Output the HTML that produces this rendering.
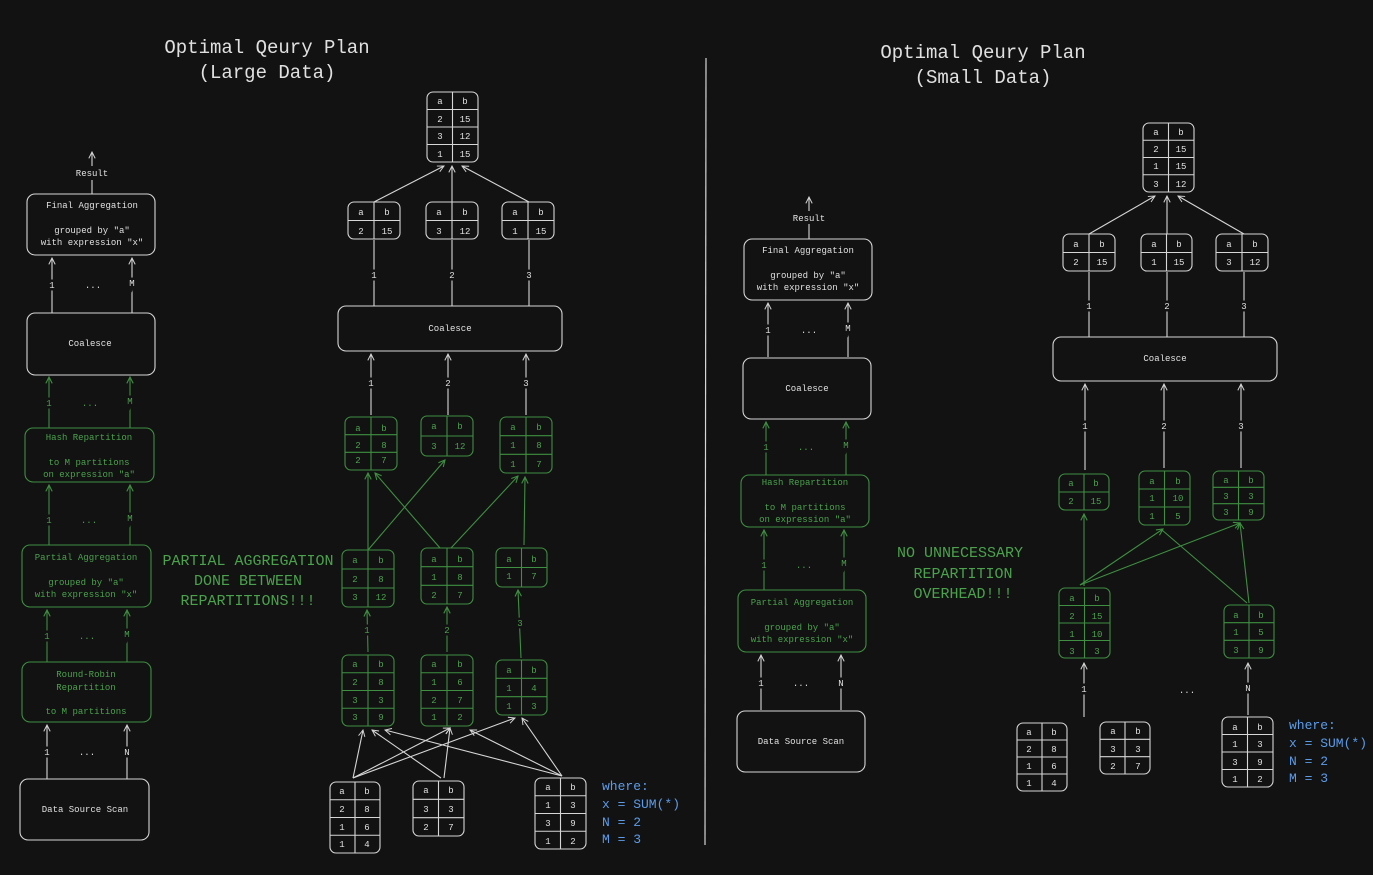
<!DOCTYPE html>
<html><head><meta charset="utf-8"><style>
html,body{margin:0;padding:0;background:#121212;}
svg{display:block}
text{font-family:"Liberation Mono","DejaVu Sans Mono",monospace;text-anchor:middle}
.w{stroke:#d6d6d6;fill:none;stroke-width:1.1}
.g{stroke:#3e8f41;fill:none;stroke-width:1.1}
.tw{fill:#e0e0e0;font-size:9px}
.tg{fill:#4aa24d;font-size:9px}
.lbl{paint-order:stroke;stroke:#121212;stroke-width:5px}
.tt{fill:#e0e0e0;font-size:19px}
.big{fill:#4aa24d;font-size:15px;font-family:"Liberation Mono",monospace}
.blue{fill:#5b9cea;font-size:13px;text-anchor:start}
</style></head><body>
<svg width="1373" height="875" viewBox="0 0 1373 875" xmlns="http://www.w3.org/2000/svg">
<defs>
<marker id="aw" viewBox="0 0 10 10" refX="9" refY="5" markerWidth="8" markerHeight="8" orient="auto-start-reverse" markerUnits="userSpaceOnUse"><path d="M1 1 L9 5 L1 9" fill="none" stroke="#d6d6d6" stroke-width="1.2"/></marker>
<marker id="ag" viewBox="0 0 10 10" refX="9" refY="5" markerWidth="8" markerHeight="8" orient="auto-start-reverse" markerUnits="userSpaceOnUse"><path d="M1 1 L9 5 L1 9" fill="none" stroke="#3e8f41" stroke-width="1.4"/></marker>
</defs>
<rect width="1373" height="875" fill="#121212"/>

<!-- titles -->
<text class="tt" x="267" y="53">Optimal Qeury Plan</text>
<text class="tt" x="267" y="78">(Large Data)</text>
<text class="tt" x="983" y="58">Optimal Qeury Plan</text>
<text class="tt" x="983" y="83">(Small Data)</text>
<line x1="706" y1="58" x2="705" y2="845" stroke="#d6d6d6" stroke-width="1.2"/>

<!-- LEFT PIPELINE -->
<line class="w" x1="92" y1="194" x2="92" y2="180"/>
<text class="tw" x="92" y="176">Result</text>
<line class="w" x1="92" y1="166" x2="92" y2="152" marker-end="url(#aw)"/>
<rect class="w" x="27" y="194" width="128" height="61" rx="8"/>
<text class="tw" x="92" y="208">Final Aggregation</text>
<text class="tw" x="92" y="233">grouped by "a"</text>
<text class="tw" x="92" y="245">with expression "x"</text>
<line class="w" x1="52" y1="313" x2="52" y2="258" marker-end="url(#aw)"/>
<line class="w" x1="132" y1="313" x2="132" y2="258" marker-end="url(#aw)"/>
<text class="tw lbl" x="52" y="288">1</text><text class="tw" x="93" y="288">...</text><text class="tw lbl" x="132" y="286">M</text>
<rect class="w" x="27" y="313" width="128" height="62" rx="8"/>
<text class="tw" x="90" y="346">Coalesce</text>
<line class="g" x1="49" y1="428" x2="49" y2="377" marker-end="url(#ag)"/>
<line class="g" x1="130" y1="428" x2="130" y2="377" marker-end="url(#ag)"/>
<text class="tg lbl" x="49" y="406">1</text><text class="tg" x="90" y="406">...</text><text class="tg lbl" x="130" y="404">M</text>
<rect class="g" x="25" y="428" width="129" height="54" rx="8"/>
<text class="tg" x="89" y="440">Hash Repartition</text>
<text class="tg" x="89" y="465">to M partitions</text>
<text class="tg" x="89" y="477">on expression "a"</text>
<line class="g" x1="49" y1="545" x2="49" y2="485" marker-end="url(#ag)"/>
<line class="g" x1="130" y1="545" x2="130" y2="485" marker-end="url(#ag)"/>
<text class="tg lbl" x="49" y="523">1</text><text class="tg" x="89" y="523">...</text><text class="tg lbl" x="130" y="521">M</text>
<rect class="g" x="22" y="545" width="129" height="62" rx="8"/>
<text class="tg" x="86" y="560">Partial Aggregation</text>
<text class="tg" x="86" y="585">grouped by "a"</text>
<text class="tg" x="86" y="597">with expression "x"</text>
<line class="g" x1="47" y1="662" x2="47" y2="610" marker-end="url(#ag)"/>
<line class="g" x1="127" y1="662" x2="127" y2="610" marker-end="url(#ag)"/>
<text class="tg lbl" x="47" y="639">1</text><text class="tg" x="87" y="639">...</text><text class="tg lbl" x="127" y="637">M</text>
<rect class="g" x="22" y="662" width="129" height="60" rx="8"/>
<text class="tg" x="86" y="677">Round-Robin</text>
<text class="tg" x="86" y="690">Repartition</text>
<text class="tg" x="86" y="714">to M partitions</text>
<line class="w" x1="47" y1="779" x2="47" y2="725" marker-end="url(#aw)"/>
<line class="w" x1="127" y1="779" x2="127" y2="725" marker-end="url(#aw)"/>
<text class="tw lbl" x="47" y="755">1</text><text class="tw" x="87" y="755">...</text><text class="tw lbl" x="127" y="755">N</text>
<rect class="w" x="20" y="779" width="129" height="61" rx="8"/>
<text class="tw" x="85" y="812">Data Source Scan</text>

<text class="big" x="248" y="565">PARTIAL AGGREGATION</text>
<text class="big" x="248" y="585">DONE BETWEEN</text>
<text class="big" x="248" y="605">REPARTITIONS!!!</text>

<!-- LEFT TREE -->
<!-- top -->
<g class="w"><rect x="427" y="92" width="51" height="70" rx="6"/><line x1="452.5" y1="92" x2="452.5" y2="162"/><line x1="427" y1="109.5" x2="478" y2="109.5"/><line x1="427" y1="127" x2="478" y2="127"/><line x1="427" y1="144.5" x2="478" y2="144.5"/></g>
<g class="tw"><text x="440" y="104">a</text><text x="465" y="104">b</text><text x="440" y="122">2</text><text x="465" y="122">15</text><text x="440" y="139">3</text><text x="465" y="139">12</text><text x="440" y="157">1</text><text x="465" y="157">15</text></g>
<line class="w" x1="374" y1="202" x2="444" y2="166" marker-end="url(#aw)"/>
<line class="w" x1="452" y1="202" x2="452" y2="166" marker-end="url(#aw)"/>
<line class="w" x1="529" y1="202" x2="462" y2="166" marker-end="url(#aw)"/>
<!-- level2 -->
<g class="w"><rect x="348" y="202" width="52" height="37" rx="6"/><line x1="374" y1="202" x2="374" y2="239"/><line x1="348" y1="220.5" x2="400" y2="220.5"/>
<rect x="426" y="202" width="52" height="37" rx="6"/><line x1="452" y1="202" x2="452" y2="239"/><line x1="426" y1="220.5" x2="478" y2="220.5"/>
<rect x="502" y="202" width="52" height="37" rx="6"/><line x1="528" y1="202" x2="528" y2="239"/><line x1="502" y1="220.5" x2="554" y2="220.5"/></g>
<g class="tw"><text x="361" y="215">a</text><text x="387" y="215">b</text><text x="361" y="234">2</text><text x="387" y="234">15</text>
<text x="439" y="215">a</text><text x="465" y="215">b</text><text x="439" y="234">3</text><text x="465" y="234">12</text>
<text x="515" y="215">a</text><text x="541" y="215">b</text><text x="515" y="234">1</text><text x="541" y="234">15</text></g>
<line class="w" x1="374" y1="306" x2="374" y2="240"/><line class="w" x1="452" y1="306" x2="452" y2="240"/><line class="w" x1="529" y1="306" x2="529" y2="240"/>
<text class="tw lbl" x="374" y="278">1</text><text class="tw lbl" x="452" y="278">2</text><text class="tw lbl" x="529" y="278">3</text>
<rect class="w" x="338" y="306" width="224" height="45" rx="8"/>
<text class="tw" x="450" y="331">Coalesce</text>
<line class="w" x1="371" y1="415" x2="371" y2="354" marker-end="url(#aw)"/>
<line class="w" x1="448" y1="415" x2="448" y2="354" marker-end="url(#aw)"/>
<line class="w" x1="526" y1="415" x2="526" y2="354" marker-end="url(#aw)"/>
<text class="tw lbl" x="371" y="386">1</text><text class="tw lbl" x="448" y="386">2</text><text class="tw lbl" x="526" y="386">3</text>
<!-- green level3 -->
<g class="g"><rect x="345" y="417" width="52" height="53" rx="6"/><line x1="371" y1="417" x2="371" y2="470"/><line x1="345" y1="434.7" x2="397" y2="434.7"/><line x1="345" y1="452.3" x2="397" y2="452.3"/>
<rect x="421" y="416" width="52" height="40" rx="6"/><line x1="447" y1="416" x2="447" y2="456"/><line x1="421" y1="436" x2="473" y2="436"/>
<rect x="500" y="417" width="52" height="56" rx="6"/><line x1="526" y1="417" x2="526" y2="473"/><line x1="500" y1="435.7" x2="552" y2="435.7"/><line x1="500" y1="454.3" x2="552" y2="454.3"/></g>
<g class="tg"><text x="358" y="431">a</text><text x="384" y="431">b</text><text x="358" y="448">2</text><text x="384" y="448">8</text><text x="358" y="463">2</text><text x="384" y="463">7</text>
<text x="434" y="429">a</text><text x="460" y="429">b</text><text x="434" y="449">3</text><text x="460" y="449">12</text>
<text x="513" y="430">a</text><text x="539" y="430">b</text><text x="513" y="448">1</text><text x="539" y="448">8</text><text x="513" y="467">1</text><text x="539" y="467">7</text></g>
<line class="g" x1="368" y1="550" x2="368" y2="473" marker-end="url(#ag)"/>
<line class="g" x1="368" y1="550" x2="445" y2="460" marker-end="url(#ag)"/>
<line class="g" x1="440" y1="548" x2="375" y2="473" marker-end="url(#ag)"/>
<line class="g" x1="451" y1="548" x2="518" y2="476" marker-end="url(#ag)"/>
<line class="g" x1="524" y1="545" x2="525" y2="477" marker-end="url(#ag)"/>
<!-- green level4 -->
<g class="g"><rect x="342" y="550" width="52" height="57" rx="6"/><line x1="368" y1="550" x2="368" y2="607"/><line x1="342" y1="569" x2="394" y2="569"/><line x1="342" y1="588" x2="394" y2="588"/>
<rect x="421" y="548" width="52" height="56" rx="6"/><line x1="447" y1="548" x2="447" y2="604"/><line x1="421" y1="566.7" x2="473" y2="566.7"/><line x1="421" y1="585.3" x2="473" y2="585.3"/>
<rect x="496" y="548" width="51" height="39" rx="6"/><line x1="521.5" y1="548" x2="521.5" y2="587"/><line x1="496" y1="567.5" x2="547" y2="567.5"/></g>
<g class="tg"><text x="355" y="563">a</text><text x="381" y="563">b</text><text x="355" y="582">2</text><text x="381" y="582">8</text><text x="355" y="600">3</text><text x="381" y="600">12</text>
<text x="434" y="562">a</text><text x="460" y="562">b</text><text x="434" y="580">1</text><text x="460" y="580">8</text><text x="434" y="598">2</text><text x="460" y="598">7</text>
<text x="509" y="562">a</text><text x="534" y="562">b</text><text x="509" y="579">1</text><text x="534" y="579">7</text></g>
<line class="g" x1="368" y1="652" x2="367" y2="610" marker-end="url(#ag)"/>
<line class="g" x1="447" y1="652" x2="447" y2="607" marker-end="url(#ag)"/>
<line class="g" x1="521" y1="658" x2="518" y2="590" marker-end="url(#ag)"/>
<text class="tg lbl" x="367" y="633">1</text><text class="tg lbl" x="447" y="633">2</text><text class="tg lbl" x="520" y="626">3</text>
<!-- green level5 -->
<g class="g"><rect x="342" y="655" width="52" height="71" rx="6"/><line x1="368" y1="655" x2="368" y2="726"/><line x1="342" y1="672.75" x2="394" y2="672.75"/><line x1="342" y1="690.5" x2="394" y2="690.5"/><line x1="342" y1="708.25" x2="394" y2="708.25"/>
<rect x="421" y="655" width="52" height="71" rx="6"/><line x1="447" y1="655" x2="447" y2="726"/><line x1="421" y1="672.75" x2="473" y2="672.75"/><line x1="421" y1="690.5" x2="473" y2="690.5"/><line x1="421" y1="708.25" x2="473" y2="708.25"/>
<rect x="496" y="660" width="51" height="55" rx="6"/><line x1="521.5" y1="660" x2="521.5" y2="715"/><line x1="496" y1="678.3" x2="547" y2="678.3"/><line x1="496" y1="696.7" x2="547" y2="696.7"/></g>
<g class="tg"><text x="355" y="667">a</text><text x="381" y="667">b</text><text x="355" y="685">2</text><text x="381" y="685">8</text><text x="355" y="703">3</text><text x="381" y="703">3</text><text x="355" y="720">3</text><text x="381" y="720">9</text>
<text x="434" y="667">a</text><text x="460" y="667">b</text><text x="434" y="685">1</text><text x="460" y="685">6</text><text x="434" y="703">2</text><text x="460" y="703">7</text><text x="434" y="720">1</text><text x="460" y="720">2</text>
<text x="509" y="673">a</text><text x="534" y="673">b</text><text x="509" y="691">1</text><text x="534" y="691">4</text><text x="509" y="709">1</text><text x="534" y="709">3</text></g>
<!-- white arrows from bottom -->
<g class="w">
<line x1="353" y1="778" x2="363" y2="730" marker-end="url(#aw)"/>
<line x1="353" y1="778" x2="450" y2="728" marker-end="url(#aw)"/>
<line x1="353" y1="778" x2="515" y2="718" marker-end="url(#aw)"/>
<line x1="441" y1="778" x2="372" y2="730" marker-end="url(#aw)"/>
<line x1="444" y1="778" x2="450" y2="728" marker-end="url(#aw)"/>
<line x1="562" y1="776" x2="385" y2="730" marker-end="url(#aw)"/>
<line x1="562" y1="776" x2="470" y2="730" marker-end="url(#aw)"/>
<line x1="562" y1="776" x2="522" y2="718" marker-end="url(#aw)"/>
</g>
<g class="w"><rect x="330" y="782" width="50" height="71" rx="6"/><line x1="355" y1="782" x2="355" y2="853"/><line x1="330" y1="799.75" x2="380" y2="799.75"/><line x1="330" y1="817.5" x2="380" y2="817.5"/><line x1="330" y1="835.25" x2="380" y2="835.25"/>
<rect x="413" y="781" width="51" height="55" rx="6"/><line x1="438.5" y1="781" x2="438.5" y2="836"/><line x1="413" y1="799.3" x2="464" y2="799.3"/><line x1="413" y1="817.7" x2="464" y2="817.7"/>
<rect x="535" y="778" width="51" height="71" rx="6"/><line x1="560.5" y1="778" x2="560.5" y2="849"/><line x1="535" y1="795.75" x2="586" y2="795.75"/><line x1="535" y1="813.5" x2="586" y2="813.5"/><line x1="535" y1="831.25" x2="586" y2="831.25"/></g>
<g class="tw"><text x="342" y="794">a</text><text x="367" y="794">b</text><text x="342" y="812">2</text><text x="367" y="812">8</text><text x="342" y="830">1</text><text x="367" y="830">6</text><text x="342" y="847">1</text><text x="367" y="847">4</text>
<text x="426" y="793">a</text><text x="451" y="793">b</text><text x="426" y="812">3</text><text x="451" y="812">3</text><text x="426" y="830">2</text><text x="451" y="830">7</text>
<text x="548" y="790">a</text><text x="573" y="790">b</text><text x="548" y="808">1</text><text x="573" y="808">3</text><text x="548" y="826">3</text><text x="573" y="826">9</text><text x="548" y="844">1</text><text x="573" y="844">2</text></g>
<text class="blue" x="602" y="790">where:</text>
<text class="blue" x="602" y="808">x = SUM(*)</text>
<text class="blue" x="602" y="826">N = 2</text>
<text class="blue" x="602" y="843">M = 3</text>

<!-- RIGHT PIPELINE -->
<line class="w" x1="809" y1="239" x2="809" y2="224"/>
<text class="tw" x="809" y="221">Result</text>
<line class="w" x1="809" y1="211" x2="809" y2="197" marker-end="url(#aw)"/>
<rect class="w" x="744" y="239" width="128" height="61" rx="8"/>
<text class="tw" x="808" y="253">Final Aggregation</text>
<text class="tw" x="808" y="278">grouped by "a"</text>
<text class="tw" x="808" y="290">with expression "x"</text>
<line class="w" x1="768" y1="357" x2="768" y2="303" marker-end="url(#aw)"/>
<line class="w" x1="848" y1="357" x2="848" y2="303" marker-end="url(#aw)"/>
<text class="tw lbl" x="768" y="333">1</text><text class="tw" x="809" y="333">...</text><text class="tw lbl" x="848" y="331">M</text>
<rect class="w" x="743" y="358" width="128" height="61" rx="8"/>
<text class="tw" x="807" y="391">Coalesce</text>
<line class="g" x1="766" y1="475" x2="766" y2="422" marker-end="url(#ag)"/>
<line class="g" x1="846" y1="475" x2="846" y2="422" marker-end="url(#ag)"/>
<text class="tg lbl" x="766" y="450">1</text><text class="tg" x="806" y="450">...</text><text class="tg lbl" x="846" y="448">M</text>
<rect class="g" x="741" y="475" width="128" height="52" rx="8"/>
<text class="tg" x="805" y="485">Hash Repartition</text>
<text class="tg" x="805" y="510">to M partitions</text>
<text class="tg" x="805" y="522">on expression "a"</text>
<line class="g" x1="764" y1="590" x2="764" y2="530" marker-end="url(#ag)"/>
<line class="g" x1="844" y1="590" x2="844" y2="530" marker-end="url(#ag)"/>
<text class="tg lbl" x="764" y="568">1</text><text class="tg" x="804" y="568">...</text><text class="tg lbl" x="844" y="566">M</text>
<rect class="g" x="738" y="590" width="128" height="62" rx="8"/>
<text class="tg" x="802" y="605">Partial Aggregation</text>
<text class="tg" x="802" y="630">grouped by "a"</text>
<text class="tg" x="802" y="642">with expression "x"</text>
<line class="w" x1="761" y1="710" x2="761" y2="655" marker-end="url(#aw)"/>
<line class="w" x1="841" y1="710" x2="841" y2="655" marker-end="url(#aw)"/>
<text class="tw lbl" x="761" y="686">1</text><text class="tw" x="801" y="686">...</text><text class="tw lbl" x="841" y="686">N</text>
<rect class="w" x="737" y="711" width="128" height="61" rx="8"/>
<text class="tw" x="801" y="744">Data Source Scan</text>

<text class="big" x="960" y="557">NO UNNECESSARY</text>
<text class="big" x="963" y="578">REPARTITION</text>
<text class="big" x="963" y="598">OVERHEAD!!!</text>

<!-- RIGHT TREE -->
<g class="w"><rect x="1143" y="123" width="51" height="69" rx="6"/><line x1="1168.5" y1="123" x2="1168.5" y2="192"/><line x1="1143" y1="140.25" x2="1194" y2="140.25"/><line x1="1143" y1="157.5" x2="1194" y2="157.5"/><line x1="1143" y1="174.75" x2="1194" y2="174.75"/></g>
<g class="tw"><text x="1156" y="135">a</text><text x="1181" y="135">b</text><text x="1156" y="152">2</text><text x="1181" y="152">15</text><text x="1156" y="169">1</text><text x="1181" y="169">15</text><text x="1156" y="187">3</text><text x="1181" y="187">12</text></g>
<line class="w" x1="1089" y1="234" x2="1155" y2="196" marker-end="url(#aw)"/>
<line class="w" x1="1167" y1="234" x2="1167" y2="196" marker-end="url(#aw)"/>
<line class="w" x1="1244" y1="234" x2="1178" y2="196" marker-end="url(#aw)"/>
<g class="w"><rect x="1063" y="234" width="52" height="37" rx="6"/><line x1="1089" y1="234" x2="1089" y2="271"/><line x1="1063" y1="252.5" x2="1115" y2="252.5"/>
<rect x="1141" y="234" width="51" height="37" rx="6"/><line x1="1166.5" y1="234" x2="1166.5" y2="271"/><line x1="1141" y1="252.5" x2="1192" y2="252.5"/>
<rect x="1216" y="234" width="52" height="37" rx="6"/><line x1="1242" y1="234" x2="1242" y2="271"/><line x1="1216" y1="252.5" x2="1268" y2="252.5"/></g>
<g class="tw"><text x="1076" y="247">a</text><text x="1102" y="247">b</text><text x="1076" y="265">2</text><text x="1102" y="265">15</text>
<text x="1154" y="247">a</text><text x="1179" y="247">b</text><text x="1154" y="265">1</text><text x="1179" y="265">15</text>
<text x="1229" y="247">a</text><text x="1255" y="247">b</text><text x="1229" y="265">3</text><text x="1255" y="265">12</text></g>
<line class="w" x1="1089" y1="337" x2="1089" y2="272"/><line class="w" x1="1167" y1="337" x2="1167" y2="272"/><line class="w" x1="1244" y1="337" x2="1244" y2="272"/>
<text class="tw lbl" x="1089" y="309">1</text><text class="tw lbl" x="1167" y="309">2</text><text class="tw lbl" x="1244" y="309">3</text>
<rect class="w" x="1053" y="337" width="224" height="44" rx="8"/>
<text class="tw" x="1165" y="361">Coalesce</text>
<line class="w" x1="1085" y1="470" x2="1085" y2="384" marker-end="url(#aw)"/>
<line class="w" x1="1164" y1="468" x2="1164" y2="384" marker-end="url(#aw)"/>
<line class="w" x1="1241" y1="468" x2="1241" y2="384" marker-end="url(#aw)"/>
<text class="tw lbl" x="1085" y="429">1</text><text class="tw lbl" x="1164" y="429">2</text><text class="tw lbl" x="1241" y="429">3</text>
<g class="g"><rect x="1059" y="474" width="50" height="36" rx="6"/><line x1="1084" y1="474" x2="1084" y2="510"/><line x1="1059" y1="492" x2="1109" y2="492"/>
<rect x="1139" y="471" width="51" height="54" rx="6"/><line x1="1164.5" y1="471" x2="1164.5" y2="525"/><line x1="1139" y1="489" x2="1190" y2="489"/><line x1="1139" y1="507" x2="1190" y2="507"/>
<rect x="1213" y="471" width="51" height="49" rx="6"/><line x1="1238.5" y1="471" x2="1238.5" y2="520"/><line x1="1213" y1="487.3" x2="1264" y2="487.3"/><line x1="1213" y1="503.7" x2="1264" y2="503.7"/></g>
<g class="tg"><text x="1071" y="486">a</text><text x="1096" y="486">b</text><text x="1071" y="504">2</text><text x="1096" y="504">15</text>
<text x="1152" y="484">a</text><text x="1178" y="484">b</text><text x="1152" y="501">1</text><text x="1178" y="501">10</text><text x="1152" y="519">1</text><text x="1178" y="519">5</text>
<text x="1226" y="483">a</text><text x="1251" y="483">b</text><text x="1226" y="499">3</text><text x="1251" y="499">3</text><text x="1226" y="515">3</text><text x="1251" y="515">9</text></g>
<g class="g" stroke-width="1.6">
<line x1="1084" y1="586" x2="1084" y2="514" marker-end="url(#ag)"/>
<line x1="1080" y1="585" x2="1163" y2="529" marker-end="url(#ag)"/>
<line x1="1080" y1="585" x2="1240" y2="523" marker-end="url(#ag)"/>
<line x1="1249" y1="603" x2="1240" y2="523" marker-end="url(#ag)"/>
<line x1="1247" y1="603" x2="1162" y2="530"/>
</g>
<g class="g"><rect x="1059" y="588" width="51" height="70" rx="6"/><line x1="1084.5" y1="588" x2="1084.5" y2="658"/><line x1="1059" y1="605.5" x2="1110" y2="605.5"/><line x1="1059" y1="623" x2="1110" y2="623"/><line x1="1059" y1="640.5" x2="1110" y2="640.5"/>
<rect x="1224" y="605" width="50" height="53" rx="6"/><line x1="1249" y1="605" x2="1249" y2="658"/><line x1="1224" y1="622.7" x2="1274" y2="622.7"/><line x1="1224" y1="640.3" x2="1274" y2="640.3"/></g>
<g class="tg"><text x="1072" y="601">a</text><text x="1097" y="601">b</text><text x="1072" y="619">2</text><text x="1097" y="619">15</text><text x="1072" y="637">1</text><text x="1097" y="637">10</text><text x="1072" y="654">3</text><text x="1097" y="654">3</text>
<text x="1236" y="618">a</text><text x="1261" y="618">b</text><text x="1236" y="635">1</text><text x="1261" y="635">5</text><text x="1236" y="653">3</text><text x="1261" y="653">9</text></g>
<line class="w" x1="1084" y1="717" x2="1084" y2="663" marker-end="url(#aw)"/>
<line class="w" x1="1248" y1="715" x2="1248" y2="663" marker-end="url(#aw)"/>
<text class="tw lbl" x="1084" y="692">1</text><text class="tw" x="1187" y="693">...</text><text class="tw lbl" x="1248" y="691">N</text>
<g class="w"><rect x="1017" y="723" width="50" height="68" rx="6"/><line x1="1042" y1="723" x2="1042" y2="791"/><line x1="1017" y1="740" x2="1067" y2="740"/><line x1="1017" y1="757" x2="1067" y2="757"/><line x1="1017" y1="774" x2="1067" y2="774"/>
<rect x="1100" y="722" width="50" height="52" rx="6"/><line x1="1125" y1="722" x2="1125" y2="774"/><line x1="1100" y1="739.3" x2="1150" y2="739.3"/><line x1="1100" y1="756.7" x2="1150" y2="756.7"/>
<rect x="1222" y="717" width="51" height="70" rx="6"/><line x1="1247.5" y1="717" x2="1247.5" y2="787"/><line x1="1222" y1="734.5" x2="1273" y2="734.5"/><line x1="1222" y1="752" x2="1273" y2="752"/><line x1="1222" y1="769.5" x2="1273" y2="769.5"/></g>
<g class="tw"><text x="1029" y="735">a</text><text x="1054" y="735">b</text><text x="1029" y="752">2</text><text x="1054" y="752">8</text><text x="1029" y="769">1</text><text x="1054" y="769">6</text><text x="1029" y="786">1</text><text x="1054" y="786">4</text>
<text x="1113" y="734">a</text><text x="1138" y="734">b</text><text x="1113" y="752">3</text><text x="1138" y="752">3</text><text x="1113" y="769">2</text><text x="1138" y="769">7</text>
<text x="1235" y="730">a</text><text x="1260" y="730">b</text><text x="1235" y="747">1</text><text x="1260" y="747">3</text><text x="1235" y="765">3</text><text x="1260" y="765">9</text><text x="1235" y="782">1</text><text x="1260" y="782">2</text></g>
<text class="blue" x="1289" y="729">where:</text>
<text class="blue" x="1289" y="747">x = SUM(*)</text>
<text class="blue" x="1289" y="765">N = 2</text>
<text class="blue" x="1289" y="782">M = 3</text>
</svg>
</body></html>
